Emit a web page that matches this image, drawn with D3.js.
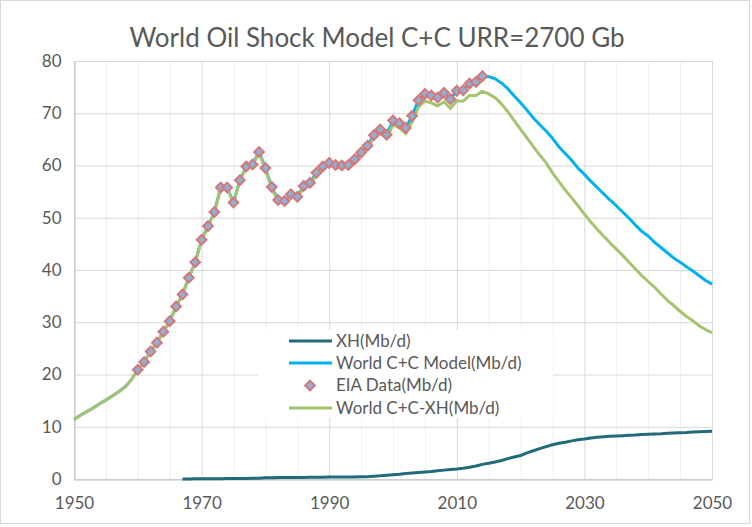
<!DOCTYPE html>
<html>
<head>
<meta charset="utf-8">
<script src="https://cdn.jsdelivr.net/npm/d3@7"></script>
<style>
  body { margin: 0; background: #fff; }
  text { font-family: Lato, "Liberation Sans", sans-serif; fill: #595959; }
</style>
</head>
<body>
<div id="chart"></div>
<script>
// ---------------- data ----------------
var eiaYears = d3.range(1960, 2015);
var eiaData = [20.9, 22.4, 24.4, 26.1, 28.2, 30.2, 33.0, 35.3, 38.5, 41.5,
               45.8, 48.4, 51.1, 55.8, 55.8, 52.9, 57.2, 59.8, 60.2, 62.6,
               59.5, 55.9, 53.4, 53.2, 54.5, 54.0, 56.1, 56.7, 58.6, 59.8,
               60.5, 60.1, 60.0, 60.1, 61.2, 62.5, 63.8, 65.8, 66.9, 65.9,
               68.6, 68.1, 67.2, 69.5, 72.5, 73.7, 73.4, 73.0, 73.9, 72.7,
               74.3, 74.4, 75.7, 76.0, 77.1];

var modelYears = d3.range(1950, 2051);
var modelValues = [11.4, 12.2, 12.9, 13.6, 14.4, 15.1, 15.9, 16.7, 17.6, 19.0,
                   20.9, 22.4, 24.4, 26.1, 28.2, 30.2, 33.0, 35.3, 38.5, 41.5,
                   45.8, 48.4, 51.1, 55.8, 55.8, 52.9, 57.2, 59.8, 60.2, 62.6,
                   59.5, 55.9, 53.4, 53.2, 54.5, 54.0, 56.1, 56.7, 58.6, 59.8,
                   60.5, 60.1, 60.0, 60.1, 61.2, 62.5, 63.8, 65.8, 66.9, 65.9,
                   68.6, 68.1, 67.2, 69.5, 72.5, 73.7, 73.4, 73.0, 73.9, 72.7,
                   74.3, 74.4, 75.7, 76.0, 77.1, 77.0, 76.6, 75.8, 74.7, 73.3,
                   72.0, 70.6, 69.1, 67.8, 66.6, 65.2, 63.6, 62.3, 61.0, 59.5,
                   58.3, 57.0, 55.8, 54.6, 53.4, 52.3, 51.1, 49.9, 48.6, 47.4,
                   46.5, 45.3, 44.3, 43.3, 42.3, 41.5, 40.6, 39.8, 38.9, 38.0,
                   37.3];

var netValues = [11.4, 12.2, 12.9, 13.6, 14.4, 15.1, 15.9, 16.7, 17.6, 19.0,
                 20.9, 22.4, 24.4, 26.1, 28.2, 30.2, 33.0, 35.3, 38.5, 41.5,
                 45.7, 48.3, 51.0, 55.7, 55.7, 52.8, 57.1, 59.7, 60.1, 62.4,
                 59.3, 55.6, 53.1, 52.9, 54.2, 53.7, 55.8, 56.4, 58.2, 59.5,
                 60.1, 59.7, 59.6, 59.7, 60.8, 62.1, 63.3, 65.3, 66.3, 65.2,
                 67.8, 67.2, 66.1, 68.3, 71.2, 72.3, 72.0, 71.4, 72.2, 70.9,
                 72.4, 72.3, 73.4, 73.4, 74.2, 73.7, 73.0, 71.8, 70.3, 68.6,
                 66.9, 65.3, 63.6, 62.0, 60.5, 58.6, 56.9, 55.3, 53.8, 52.3,
                 50.7, 49.2, 47.8, 46.5, 45.2, 44.0, 42.8, 41.5, 40.2, 38.9,
                 37.8, 36.7, 35.4, 34.2, 33.2, 32.1, 31.1, 30.3, 29.3, 28.6,
                 28.0];

var xhYears = d3.range(1967, 2051);
var xhValues = [0.0, 0.02, 0.03, 0.05, 0.05, 0.06, 0.07, 0.08, 0.09, 0.1,
                0.11, 0.12, 0.15, 0.25, 0.26, 0.27, 0.28, 0.29, 0.3, 0.31,
                0.32, 0.33, 0.34, 0.36, 0.37, 0.38, 0.39, 0.4, 0.42, 0.45,
                0.52, 0.6, 0.72, 0.8, 0.9, 1.05, 1.15, 1.25, 1.35, 1.45,
                1.58, 1.7, 1.8, 1.9, 2.05, 2.25, 2.5, 2.8, 3.0, 3.25,
                3.55, 3.9, 4.2, 4.5, 5.0, 5.4, 5.8, 6.2, 6.55, 6.85,
                7.05, 7.3, 7.5, 7.65, 7.85, 8.0, 8.1, 8.2, 8.25, 8.3,
                8.35, 8.4, 8.5, 8.55, 8.6, 8.65, 8.75, 8.8, 8.85, 8.9,
                9.0, 9.05, 9.1, 9.15];

var xTicks = [1950, 1970, 1990, 2010, 2030, 2050];
var yTicks = [0, 10, 20, 30, 40, 50, 60, 70, 80];
var seriesNames = ["XH(Mb/d)", "World C+C Model(Mb/d)", "EIA Data(Mb/d)", "World C+C-XH(Mb/d)"];

(function (d3) {
    "use strict";

    var W = 752, H = 527;
    var plot = { left: 74, right: 712, top: 61, bottom: 479 };

    var colors = {
        xh: "#226b7b",
        model: "#00b0f0",
        net: "#a6c46f",
        markerFill: "#8fb0d6",
        markerStroke: "#d47878"
    };

    var svg = d3.select("#chart").append("svg")
        .attr("width", W)
        .attr("height", H);

    // chart border
    svg.append("rect")
        .attr("x", 0.5).attr("y", 0.5)
        .attr("width", W - 3).attr("height", H - 4)
        .attr("fill", "#fff")
        .attr("stroke", "#d9d9d9");

    // Scales
    var xScale = d3.scaleLinear().domain([1950, 2050]).range([plot.left, plot.right]);
    var yScale = d3.scaleLinear().domain([0, 80]).range([plot.bottom, plot.top]);

    // Title
    svg.append("text")
        .attr("x", 377)
        .attr("y", 47)
        .attr("text-anchor", "middle")
        .style("font-size", "26px")
        .text("World Oil Shock Model C+C URR=2700 Gb");

    // Grid lines
    var grid = svg.append("g").attr("class", "grid");
    grid.selectAll("line.vminor")
        .data(d3.range(1955, 2050, 5).filter(function (d) { return (d - 1950) % 20 !== 0; }))
        .enter().append("line")
        .attr("x1", function (d) { return xScale(d) + 0.5; })
        .attr("x2", function (d) { return xScale(d) + 0.5; })
        .attr("y1", plot.top).attr("y2", plot.bottom)
        .attr("stroke", "#efefef");
    grid.selectAll("line.vmajor")
        .data(xTicks)
        .enter().append("line")
        .attr("x1", function (d) { return xScale(d) + 0.5; })
        .attr("x2", function (d) { return xScale(d) + 0.5; })
        .attr("y1", plot.top).attr("y2", plot.bottom)
        .attr("stroke", "#d9d9d9");
    grid.selectAll("line.h")
        .data(yTicks)
        .enter().append("line")
        .attr("x1", plot.left).attr("x2", plot.right)
        .attr("y1", function (d) { return yScale(d) + 0.5; })
        .attr("y2", function (d) { return yScale(d) + 0.5; })
        .attr("stroke", "#d9d9d9");

    // Axes (lines + labels)
    var xAxis = d3.axisBottom(xScale).tickValues(xTicks).tickFormat(d3.format("d")).tickSize(0).tickPadding(17);
    var yAxis = d3.axisLeft(yScale).tickValues(yTicks).tickSize(0).tickPadding(13);

    var gx = svg.append("g")
        .attr("transform", "translate(0," + (plot.bottom + 0.5) + ")")
        .call(xAxis);
    var gy = svg.append("g")
        .attr("transform", "translate(" + (plot.left + 0.5) + ",0)")
        .call(yAxis);
    [gx, gy].forEach(function (g) {
        g.select(".domain").attr("stroke", "#bfbfbf");
        g.selectAll("text")
            .style("font-size", "17px")
            .style("font-family", "Lato, 'Liberation Sans', sans-serif")
            .attr("fill", "#595959");
    });

    // Legend box
    var legend = svg.append("g").attr("class", "legend");
    legend.append("rect")
        .attr("x", 258).attr("y", 330)
        .attr("width", 295).attr("height", 88)
        .attr("fill", "#fff");

    // Lines
    var line = d3.line()
        .x(function (d) { return xScale(d[0]); })
        .y(function (d) { return yScale(d[1]); });

    function draw(years, values, color) {
        svg.append("path")
            .datum(d3.zip(years, values))
            .attr("fill", "none")
            .attr("stroke", color)
            .attr("stroke-width", 3)
            .attr("stroke-linejoin", "round")
            .attr("d", line);
    }

    draw(xhYears, xhValues, colors.xh);
    draw(modelYears, modelValues, colors.model);
    draw(modelYears, netValues, colors.net);

    // EIA markers
    var diamond = d3.symbol().type(d3.symbolDiamond2).size(60);
    svg.append("g").selectAll("path")
        .data(d3.zip(eiaYears, eiaData))
        .enter().append("path")
        .attr("transform", function (d) { return "translate(" + xScale(d[0]) + "," + yScale(d[1]) + ")"; })
        .attr("d", diamond)
        .attr("fill", colors.markerFill)
        .attr("stroke", colors.markerStroke)
        .attr("stroke-width", 2);

    // Legend entries
    var rows = [341, 363, 385.5, 408];
    var rowColors = [colors.xh, colors.model, null, colors.net];
    seriesNames.forEach(function (name, i) {
        if (rowColors[i]) {
            legend.append("line")
                .attr("x1", 289).attr("x2", 332)
                .attr("y1", rows[i]).attr("y2", rows[i])
                .attr("stroke", rowColors[i])
                .attr("stroke-width", 3);
        } else {
            legend.append("path")
                .attr("transform", "translate(310," + rows[i] + ")")
                .attr("d", diamond)
                .attr("fill", colors.markerFill)
                .attr("stroke", colors.markerStroke)
                .attr("stroke-width", 2);
        }
        legend.append("text")
            .attr("x", 336)
            .attr("y", rows[i])
            .attr("dy", "0.35em")
            .style("font-size", "17px")
            .text(name);
    });

})(d3);
</script>
</body>
</html>
